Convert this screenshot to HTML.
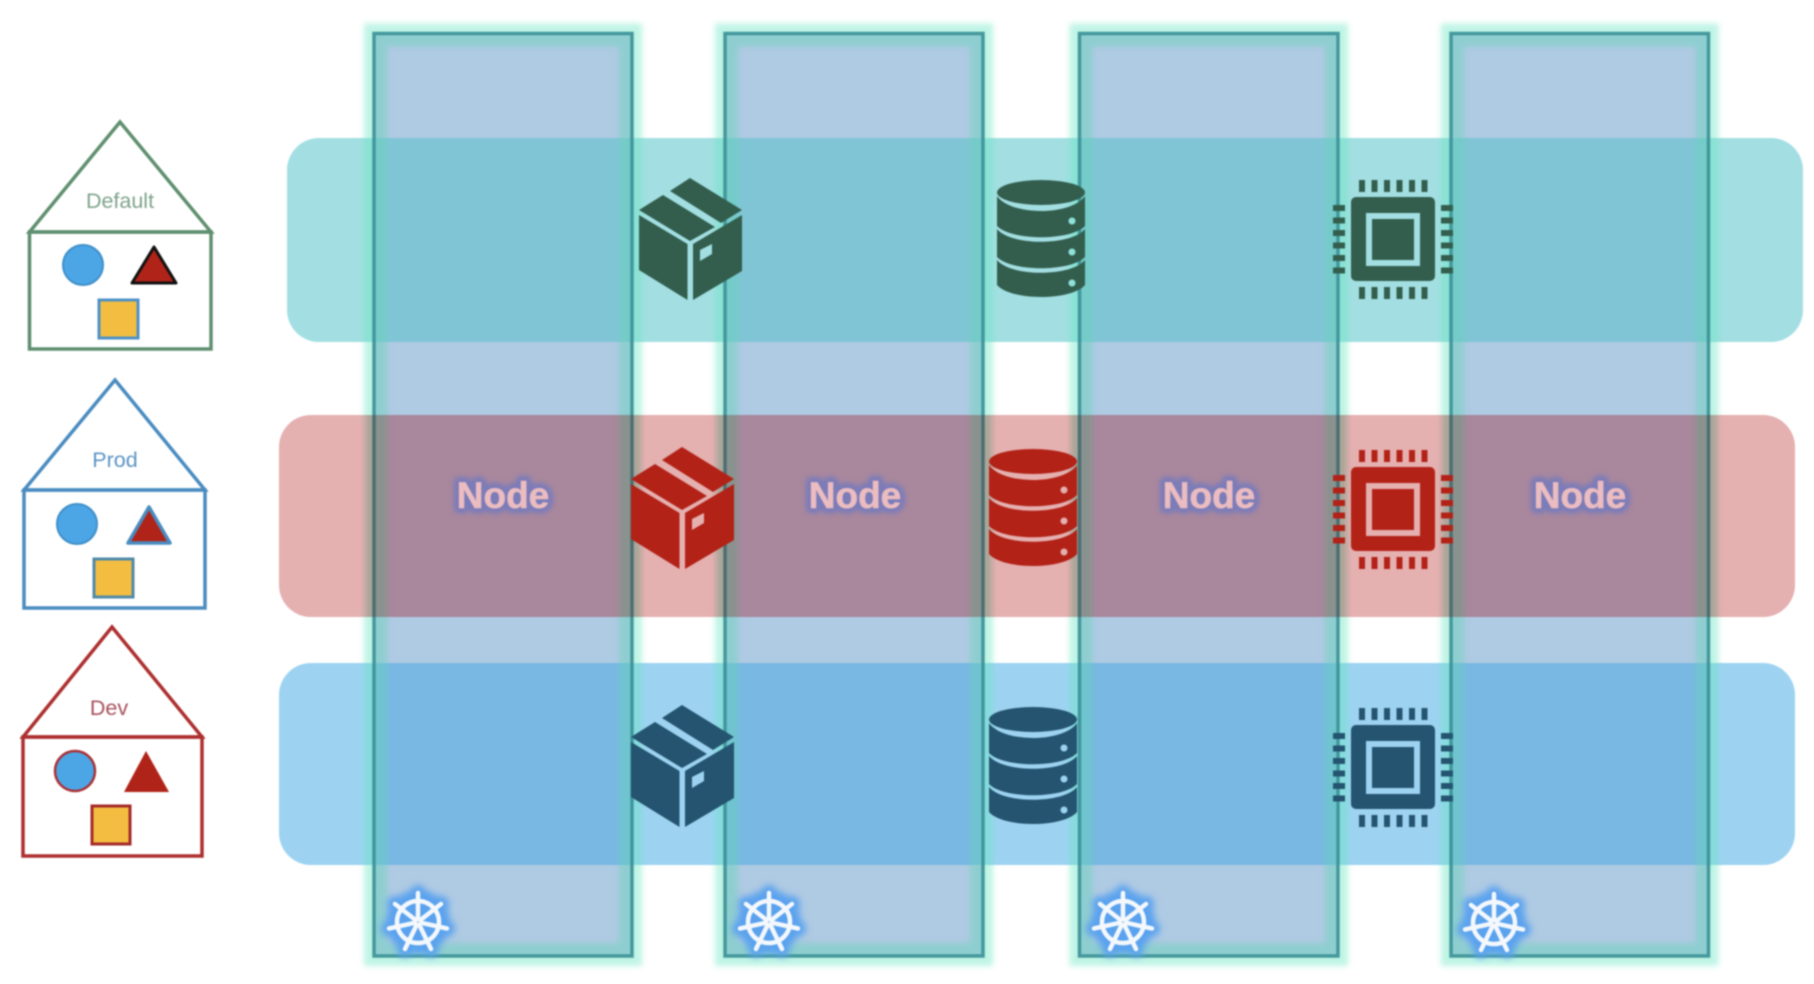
<!DOCTYPE html>
<html><head><meta charset="utf-8"><style>
html,body{margin:0;padding:0;background:#fff;width:1814px;height:984px;overflow:hidden}
svg{display:block;filter:blur(.9px)}
</style></head><body>
<svg xmlns="http://www.w3.org/2000/svg" width="1814" height="984" viewBox="0 0 1814 984">
<defs>
<filter id="g" x="-20%" y="-20%" width="140%" height="140%"><feGaussianBlur stdDeviation="3"/></filter>
<filter id="h" x="-50%" y="-50%" width="200%" height="200%"><feGaussianBlur stdDeviation="3.5"/></filter>
<filter id="n" x="-30%" y="-50%" width="160%" height="200%"><feGaussianBlur stdDeviation="2.5"/></filter>
<clipPath id="b1"><rect x="287" y="138" width="1516" height="204" rx="32"/></clipPath>
<clipPath id="b2"><rect x="279" y="415" width="1516" height="202" rx="32"/></clipPath>
<clipPath id="b3"><rect x="279" y="663" width="1516" height="202" rx="32"/></clipPath>
<clipPath id="nr"><rect x="0" y="0" width="1814" height="415"/><rect x="0" y="617" width="1814" height="367"/></clipPath>
<clipPath id="rd"><rect x="0" y="415" width="1814" height="202"/></clipPath>
<clipPath id="ci">
<rect x="374" y="33.5" width="258" height="922.5"/>
<rect x="725" y="33.5" width="258" height="922.5"/>
<rect x="1079.5" y="33.5" width="258.5" height="922.5"/>
<rect x="1451" y="33.5" width="257.5" height="922.5"/>
</clipPath>
<g id="cols">
<rect x="374" y="33.5" width="258" height="922.5"/>
<rect x="725" y="33.5" width="258" height="922.5"/>
<rect x="1079.5" y="33.5" width="258.5" height="922.5"/>
<rect x="1451" y="33.5" width="257.5" height="922.5"/>
</g>
<g id="box">
<polygon points="51,0 103,32 82,45 31,13"/>
<polygon points="24,17 76,49 51,63 0,32"/>
<polygon points="0,37 48.500,66 48.500,122 0,92"/>
<path fill-rule="evenodd" d="M54,66 L103,37 L103,93 L54,122 Z M61,72 L61,83 L73,76 L73,66 Z"/>
</g>
<g id="db">
<ellipse cx="44" cy="12.5" rx="44" ry="12.5"/>
<path fill-rule="evenodd" d="M0,16 C14,36 74,36 88,16 V46 C74,61 14,61 0,46 Z M75,37.500 a3.500,3.500 0 1 0 .01,0 Z"/>
<path fill-rule="evenodd" d="M0,49 C14,66 74,66 88,49 V77 C74,92 14,92 0,77 Z M75,68.500 a3.500,3.500 0 1 0 .01,0 Z"/>
<path fill-rule="evenodd" d="M0,80 C14,97 74,97 88,80 V105 C74,121 14,121 0,105 Z M75,99.500 a3.500,3.500 0 1 0 .01,0 Z"/>
</g>
<g id="chip">
<path fill-rule="evenodd" d="M5,0 H79 a5,5 0 0 1 5,5 V79 a5,5 0 0 1 -5,5 H5 a5,5 0 0 1 -5,-5 V5 a5,5 0 0 1 5,-5 Z M15,16 V69 H69 V16 Z M21,22 H63 V63 H21 Z"/>
<g id="pt"><rect x="8" y="-17" width="6" height="12"/><rect x="20.500" y="-17" width="6" height="12"/><rect x="33" y="-17" width="6" height="12"/><rect x="45.500" y="-17" width="6" height="12"/><rect x="58" y="-17" width="6" height="12"/><rect x="70.500" y="-17" width="6" height="12"/></g>
<use href="#pt" y="107"/>
<g id="pl"><rect x="-18" y="8" width="12" height="6"/><rect x="-18" y="20.500" width="12" height="6"/><rect x="-18" y="33" width="12" height="6"/><rect x="-18" y="45.500" width="12" height="6"/><rect x="-18" y="58" width="12" height="6"/><rect x="-18" y="70.500" width="12" height="6"/></g>
<use href="#pl" x="108"/>
</g>
<g id="wheel" fill="none" stroke-linecap="round">
<circle r="21"/><circle r="3"/>
<g id="sp">
<path d="M0,-29 V-4"/><path d="M23,-18 L3.100,-2.500"/><path d="M29,6.500 L3.900,.9"/><path d="M13,27 L1.700,3.600"/><path d="M-13,27 L-1.700,3.600"/><path d="M-29,6.500 L-3.900,.9"/><path d="M-23,-18 L-3.100,-2.500"/>
</g>
</g>
<g id="helm">
<g filter="url(#h)"><circle r="32" fill="#5aa2ee"/><use href="#wheel" stroke="#5aa2ee" stroke-width="16"/></g>
<use href="#wheel" stroke="#f4f8fd" stroke-width="4.500"/>
</g>
</defs>

<rect width="1814" height="984" fill="#fff"/>

<!-- bands -->
<rect x="287" y="138" width="1516" height="204" rx="32" fill="#a3dfe2"/>
<rect x="279" y="415" width="1516" height="202" rx="32" fill="#e5b0b0"/>
<rect x="279" y="663" width="1516" height="202" rx="32" fill="#9dd3f1"/>

<!-- outer glow -->
<g clip-path="url(#nr)"><g filter="url(#g)"><use href="#cols" fill="none" stroke="#64e4c0" stroke-opacity=".42" stroke-width="20"/></g></g>
<g clip-path="url(#rd)"><g filter="url(#g)"><use href="#cols" fill="none" stroke="#6e9b82" stroke-opacity=".5" stroke-width="18"/></g></g>

<!-- column fill -->
<use href="#cols" fill="#afcae3"/>
<g clip-path="url(#b1)"><use href="#cols" fill="#80c5d6"/></g>
<g clip-path="url(#b2)"><use href="#cols" fill="#a9879d"/></g>
<g clip-path="url(#b3)"><use href="#cols" fill="#78b8e3"/></g>

<!-- inner glow -->
<g clip-path="url(#ci)">
<g clip-path="url(#nr)"><g filter="url(#g)"><use href="#cols" fill="none" stroke="#64d2b8" stroke-opacity=".45" stroke-width="26"/></g></g>
<g clip-path="url(#rd)"><g filter="url(#g)"><use href="#cols" fill="none" stroke="#6e9b82" stroke-opacity=".55" stroke-width="26"/></g></g>
</g>

<!-- column outline -->
<g clip-path="url(#nr)"><use href="#cols" fill="none" stroke="#3c9197" stroke-opacity=".92" stroke-width="3.500"/></g>
<g clip-path="url(#rd)"><use href="#cols" fill="none" stroke="#4d6e72" stroke-width="3.500"/></g>

<!-- node labels -->
<g font-family="'Liberation Sans',sans-serif" font-weight="700" font-size="37" text-anchor="middle">
<g fill="#7c7cb8" stroke="#7c7cb8" stroke-width="11" stroke-linejoin="round" filter="url(#n)">
<text x="503" y="508">Node</text><text x="855" y="508">Node</text><text x="1209" y="508">Node</text><text x="1580" y="508">Node</text>
</g>
<g fill="#ebbcc0" stroke="#ebbcc0" stroke-width=".6">
<text x="503" y="508">Node</text><text x="855" y="508">Node</text><text x="1209" y="508">Node</text><text x="1580" y="508">Node</text>
</g>
</g>

<!-- icons -->
<use href="#box" x="639" y="178" fill="#335e4e"/>
<use href="#db" x="997" y="180" fill="#335e4e"/>
<use href="#chip" x="1351" y="197" fill="#335e4e"/>
<use href="#box" x="631" y="447" fill="#b22217"/>
<use href="#db" x="989" y="449" fill="#b22217"/>
<use href="#chip" x="1351" y="467" fill="#b22217"/>
<use href="#box" x="631" y="705" fill="#24546f"/>
<use href="#db" x="989" y="707" fill="#24546f"/>
<use href="#chip" x="1351" y="725" fill="#24546f"/>

<!-- helm -->
<use href="#helm" x="418" y="922"/>
<use href="#helm" x="769" y="922"/>
<use href="#helm" x="1123" y="922"/>
<use href="#helm" x="1494" y="923"/>

<!-- houses -->
<g fill="none" stroke="#5f8f6f" stroke-width="3.500" stroke-linejoin="miter">
<polygon points="120,122 211,232 29.500,232"/><rect x="29.500" y="232" width="181.500" height="117"/>
</g>
<circle cx="83" cy="265" r="20" fill="#4ca6e6" stroke="#3f8fc8" stroke-width="2"/>
<polygon points="154,247 176,283 132,283" fill="#b02318" stroke="#111" stroke-width="3" stroke-linejoin="round"/>
<rect x="99" y="300" width="39" height="38" fill="#f3bd41" stroke="#4f92c6" stroke-width="3"/>
<text x="120" y="208" font-family="'Liberation Sans',sans-serif" font-size="21.500" fill="#7fa38c" text-anchor="middle">Default</text>

<g fill="none" stroke="#4a8cc0" stroke-width="3.500">
<polygon points="115,380 205,490 24,490"/><rect x="24" y="490" width="181" height="118"/>
</g>
<circle cx="77" cy="524" r="20" fill="#4ca6e6" stroke="#3f8fc8" stroke-width="2"/>
<polygon points="149,507 170,543 128,543" fill="#b02318" stroke="#4a8cc0" stroke-width="3.500" stroke-linejoin="round"/>
<rect x="94" y="559" width="39" height="38" fill="#f3bd41" stroke="#4f8aa8" stroke-width="3"/>
<text x="115" y="467" font-family="'Liberation Sans',sans-serif" font-size="21.500" fill="#5d94c4" text-anchor="middle">Prod</text>

<g fill="none" stroke="#ad2f2f" stroke-width="3.500">
<polygon points="112,627 202,737 23,737"/><rect x="23" y="737" width="179" height="119"/>
</g>
<circle cx="75" cy="771" r="20" fill="#4ca6e6" stroke="#a83238" stroke-width="2.500"/>
<polygon points="146,751 169,792 124,792" fill="#b02318"/>
<rect x="92" y="806" width="38" height="38" fill="#f3bd41" stroke="#a52a2a" stroke-width="3"/>
<text x="109" y="715" font-family="'Liberation Sans',sans-serif" font-size="21.500" fill="#a8505c" text-anchor="middle">Dev</text>
</svg>
</body></html>
